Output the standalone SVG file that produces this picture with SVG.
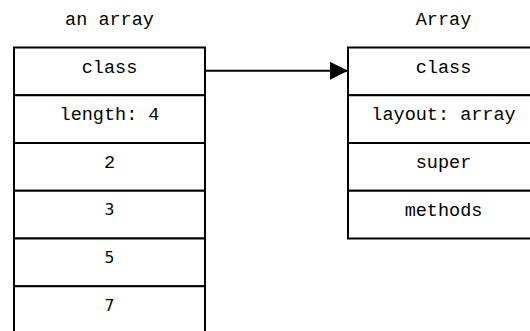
<svg xmlns="http://www.w3.org/2000/svg" width="530" height="331" viewBox="0 0 530 331">
  <style>
    .cell { fill: #ffffff; stroke: #000000; stroke-width: 2; }
    .mono { font-family: "Liberation Mono", "Courier New", monospace; font-size: 18.5px; fill: #000000; text-anchor: middle; }
    .num { font-family: "DejaVu Sans", sans-serif; font-size: 15.5px; fill: #000000; text-anchor: middle; }
    .link { stroke: #000000; stroke-width: 2; fill: none; }
  </style>
  <defs>
    <marker id="head" viewBox="0 0 18 18" refX="18" refY="9" markerWidth="18" markerHeight="18" markerUnits="userSpaceOnUse" orient="auto">
      <path d="M0,0 L18,9 L0,18 Z" fill="#000000"/>
    </marker>
  </defs>
  <rect width="530" height="331" fill="#ffffff"/>

  <!-- instance object: header cells followed by the elements -->
  <g id="an-array">
    <text class="mono" x="109.5" y="25">an array</text>
    <rect class="cell" x="14" y="47.5" width="191" height="47.75"/>
    <rect class="cell" x="14" y="95.25" width="191" height="47.75"/>
    <rect class="cell" x="14" y="143" width="191" height="47.75"/>
    <rect class="cell" x="14" y="190.75" width="191" height="47.75"/>
    <rect class="cell" x="14" y="238.5" width="191" height="47.75"/>
    <rect class="cell" x="14" y="286.25" width="191" height="47.75"/>
    <text class="mono" x="109.5" y="72.5">class</text>
    <text class="mono" x="109.5" y="120.25">length: 4</text>
    <text class="mono" x="109.5" y="168">2</text>
    <text class="num" x="109.5" y="215">3</text>
    <text class="num" x="109.5" y="262.75">5</text>
    <text class="num" x="109.5" y="310.5">7</text>
  </g>

  <!-- class object -->
  <g id="array-class">
    <text class="mono" x="443.5" y="25">Array</text>
    <rect class="cell" x="348" y="47.5" width="192" height="47.75"/>
    <rect class="cell" x="348" y="95.25" width="192" height="47.75"/>
    <rect class="cell" x="348" y="143" width="192" height="47.75"/>
    <rect class="cell" x="348" y="190.75" width="192" height="47.75"/>
    <text class="mono" x="443.5" y="72.5">class</text>
    <text class="mono" x="443.5" y="120.25">layout: array</text>
    <text class="mono" x="443.5" y="168">super</text>
    <text class="mono" x="443.5" y="215.75">methods</text>
  </g>

  <g id="connectors">
    <line class="link" x1="205" y1="70.75" x2="348" y2="70.75" marker-end="url(#head)"/>
  </g>
</svg>
